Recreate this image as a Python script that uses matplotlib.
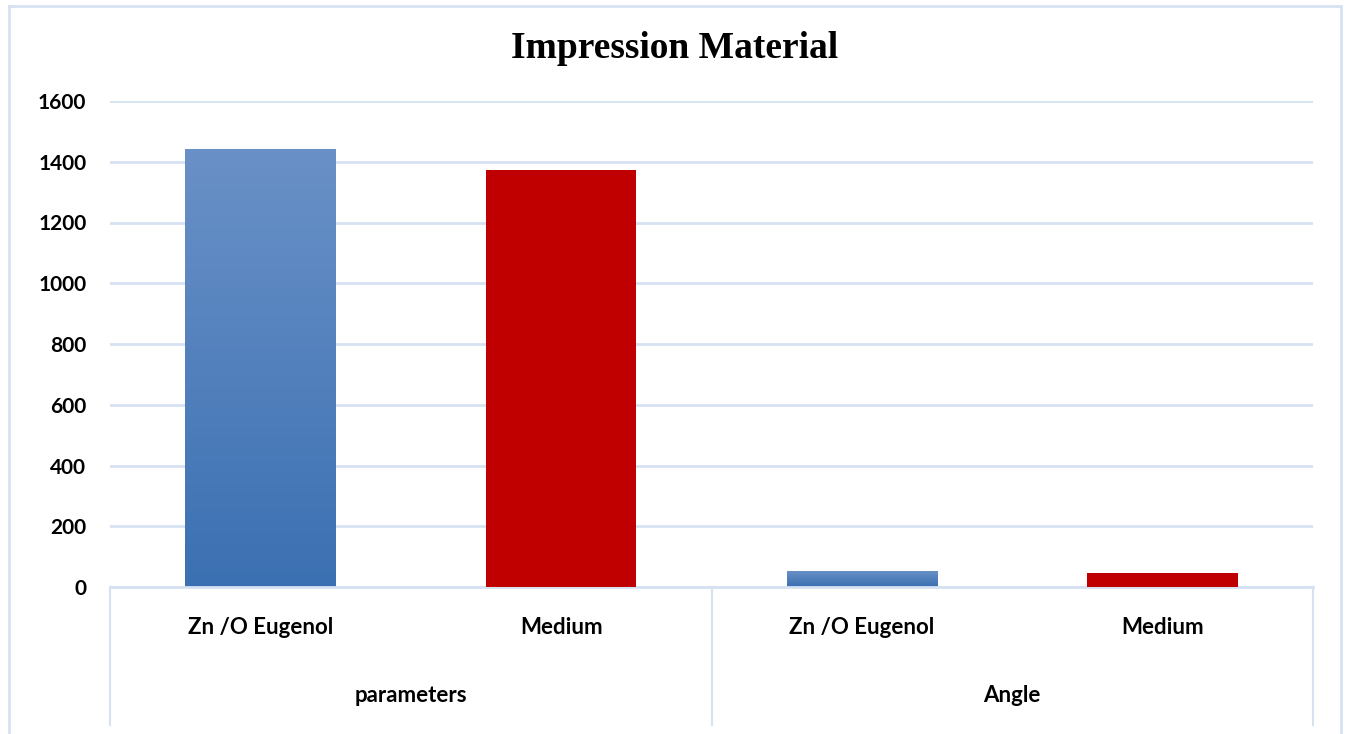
import numpy as np
import matplotlib.pyplot as plt
from matplotlib.lines import Line2D
from matplotlib.colors import LinearSegmentedColormap

title = 'Impression Material'
labels = ['Zn /O Eugenol', 'Medium', 'Zn /O Eugenol', 'Medium']
groups = ['parameters', 'Angle']
values = [1442, 1373, 53, 46]
kinds = ['grad', 'red', 'grad', 'red']

plt.rcParams['font.family'] = ['Lato', 'DejaVu Sans']

fig = plt.figure(figsize=(13.46, 7.34), dpi=100)
ax = fig.add_axes([110/1346, 1-587/734, (1313-110)/1346, (587-101)/734])

grid_c = '#D6E1F1'
x = np.arange(len(values))
bars = ax.bar(x, values, width=0.5, color='none', zorder=3)
blue = LinearSegmentedColormap.from_list('b', ['#3B70B2', '#6A91C7'])
grad = np.linspace(0, 1, 256).reshape(-1, 1)
for b, k in zip(bars, kinds):
    if k == 'red':
        b.set_facecolor('#C00000')
    else:
        x0, w, h = b.get_x(), b.get_width(), b.get_height()
        im = ax.imshow(grad, cmap=blue, origin='lower', aspect='auto',
                       extent=[x0, x0 + w, 0, h], zorder=2)
        im.set_clip_path(b)

ax.set_xlim(-0.5, len(values) - 0.5)
ax.set_ylim(0, 1600)
ax.set_yticks(range(0, 1601, 200))
ax.set_yticklabels([str(v) for v in range(0, 1601, 200)], fontsize=15, fontweight='bold')
ax.tick_params(axis='y', length=0, pad=17)
ax.set_xticks([])
ax.grid(axis='y', color=grid_c, linewidth=2, zorder=0)
for s in ['left', 'right', 'top']:
    ax.spines[s].set_visible(False)
ax.spines['bottom'].set_color(grid_c)
ax.spines['bottom'].set_linewidth(2)

# category labels and group labels below axis
trans = ax.get_xaxis_transform()
for xi, lab in zip(x, labels):
    ax.text(xi, -(627-587)/486, lab, transform=trans, ha='center', va='center',
            fontsize=16, fontweight='bold')
for gi, g in enumerate(groups):
    ax.text(gi*2 + 0.5, -(696-587)/486, g, transform=trans, ha='center', va='center',
            fontsize=16, fontweight='bold')
for xs in [-0.5, 1.5, 3.5]:
    ax.plot([xs, xs], [0, -(725-587)/486], transform=trans, color=grid_c,
            linewidth=1.5, clip_on=False)

fig.text(675/1346, 1-49/734, title, ha='center', va='center', fontsize=27,
         fontweight='bold', family='Liberation Serif')

# outer chart border
bc = '#D6E1F1'
fig.add_artist(Line2D([9/1346, 9/1346], [0, 1-6/734], color=bc, linewidth=2))
fig.add_artist(Line2D([9/1346, 1341/1346], [1-6/734, 1-6/734], color=bc, linewidth=2))
fig.add_artist(Line2D([1341/1346, 1341/1346], [0, 1-6/734], color=bc, linewidth=2))

fig.savefig('out.png', dpi=100)
